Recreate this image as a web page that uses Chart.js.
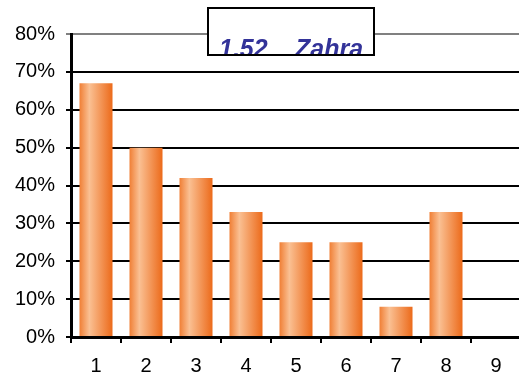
<!DOCTYPE html>
<html><head><meta charset="utf-8">
<script src="https://cdn.jsdelivr.net/npm/chart.js@4/dist/chart.umd.min.js"></script>
<style>html,body{margin:0;padding:0;overflow:hidden;background:#fff;width:519px;height:379px}canvas{position:absolute;left:0;top:0}</style>
</head><body>
<canvas id="c" width="521" height="379" style="width:521px;height:379px"></canvas>
<script>
const categories = ['1','2','3','4','5','6','7','8','9'];
const values = [0.67, 0.50, 0.42, 0.33, 0.25, 0.25, 0.08, 0.33, 0];
const titleParts = ['1.52', 'Zahra'];

Chart.defaults.font.family = 'Arial, "Liberation Sans", sans-serif';
Chart.defaults.color = '#000';

function barGradient(ctx) {
  const chart = ctx.chart;
  const xs = chart.scales && chart.scales.x;
  if (!chart.chartArea || !xs || ctx.dataIndex === undefined) return '#F08A40';
  const cx = xs.getPixelForValue(ctx.dataIndex);
  const w = (xs.width / categories.length) * 0.66;
  const g = chart.ctx.createLinearGradient(cx - w / 2, 0, cx + w / 2, 0);
  g.addColorStop(0, '#F07F35');
  g.addColorStop(0.3, '#FAC093');
  g.addColorStop(1, '#EC6A1A');
  return g;
}

const titleBox = {
  id: 'titleBox',
  afterDraw(chart) {
    const c = chart.ctx;
    c.save();
    const x = 208, y = 8, w = 166, h = 47;
    c.fillStyle = '#fff';
    c.fillRect(x, y, w, h);
    c.beginPath(); c.rect(x, y, w, h); c.clip();
    c.fillStyle = '#333399';
    c.font = 'italic bold 25px Arial, "Liberation Sans", sans-serif';
    c.textBaseline = 'alphabetic';
    c.fillText(titleParts[0], 219, 57);
    c.fillText(titleParts[1], 295, 57);
    c.restore();
    c.save();
    c.strokeStyle = '#000';
    c.lineWidth = 2;
    c.strokeRect(x, y, w, h);
    c.restore();
  }
};

new Chart(document.getElementById('c'), {
  type: 'bar',
  data: {
    labels: categories,
    datasets: [{
      data: values,
      backgroundColor: barGradient,
      borderWidth: 0,
      barPercentage: 0.66,
      categoryPercentage: 1.0
    }]
  },
  options: {
    responsive: false,
    animation: false,
    layout: { padding: { top: 34, right: 0, left: 0, bottom: 0 } },
    plugins: { legend: { display: false }, tooltip: { enabled: false }, title: { display: false } },
    scales: {
      x: {
        offset: true,
        afterFit: s => { s.height = 42; },
        grid: { offset: true, drawOnChartArea: false, drawTicks: true, tickLength: 6, color: '#000', lineWidth: 2 },
        border: { display: true, color: '#000', width: 3 },
        ticks: { font: { size: 20 }, padding: 11, color: '#000', maxRotation: 0 }
      },
      y: {
        min: 0, max: 0.8,
        afterFit: s => { s.width = 71; },
        grid: {
          color: c => (c.tick && Math.abs(c.tick.value - 0.8) < 1e-6) ? '#808080' : '#000',
          lineWidth: 2, tickLength: 5
        },
        border: { display: true, color: '#000', width: 3 },
        ticks: {
          stepSize: 0.1, font: { size: 20 }, padding: 11, color: '#000',
          callback: v => Math.round(v * 100) + '%'
        }
      }
    }
  },
  plugins: [titleBox]
});
</script>
</body></html>
